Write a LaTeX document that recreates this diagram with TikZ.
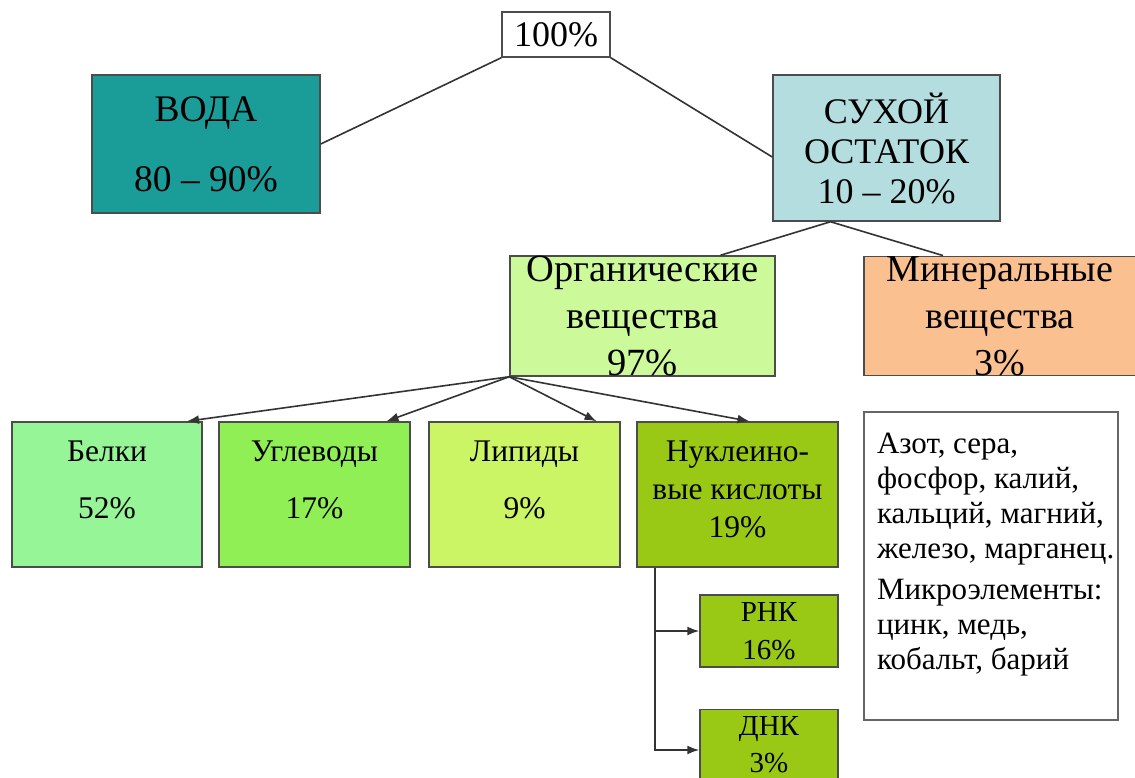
\documentclass[tikz,border=0pt]{standalone}
\usepackage{fontspec}
\setmainfont{Liberation Serif}
\usetikzlibrary{arrows.meta}

\definecolor{waterfill}{HTML}{1A9C98}
\definecolor{dryfill}{HTML}{B4DDE0}
\definecolor{organicfill}{HTML}{CCF99A}
\definecolor{mineralfill}{HTML}{FAC08F}
\definecolor{proteinfill}{HTML}{96F596}
\definecolor{carbfill}{HTML}{8FEF55}
\definecolor{lipidfill}{HTML}{CCF566}
\definecolor{nucleicfill}{HTML}{99C914}

\begin{document}
\begin{tikzpicture}
  [x=1pt, y=-1pt,
   my box/.style={draw=black!70, line width=1.5pt, inner sep=0pt,
     align=center, font=\fontsize{36}{40}\selectfont},
   my small box/.style={my box, font=\fontsize{31.5}{38}\selectfont},
   my line/.style={draw=black!80, line width=1.6pt},
   my arrow/.style={my line, -{Latex[length=12pt,width=9pt]}}, ]

  \clip (0,0) rectangle (1135,778);
  \fill[white] (0,0) rectangle (1135,778);

  \node[my box, fill=white, minimum width=108, minimum height=45]
    (total) at (556,34.5) {100\%};
  \node[my box, fill=waterfill, minimum width=228, minimum height=138,
    font=\fontsize{37.5}{42}\selectfont]
    (water) at (206,144) {ВОДА\\[28pt]80 – 90\%};
  \node[my box, fill=dryfill, minimum width=227, minimum height=146]
    (dry) at (886.5,148) {СУХОЙ\\ОСТАТОК\\10 – 20\%};

  \node[my box, fill=organicfill, minimum width=265, minimum height=118,
    font=\fontsize{38.5}{47}\selectfont]
    (organic) at (642.5,316) {Органические\\вещества\\97\%};
  \node[my box, fill=mineralfill, minimum width=272, minimum height=118,
    font=\fontsize{38}{47}\selectfont]
    (mineral) at (1000,316) {Минеральные\\вещества\\3\%};

  \node[my small box, fill=proteinfill, minimum width=190, minimum height=145,
    text depth=30pt]
    (proteins) at (107,494.5) {Белки\\[19pt]52\%};
  \node[my small box, fill=carbfill, minimum width=191, minimum height=145,
    text depth=30pt]
    (carbs) at (314.5,494.5) {Углеводы\\[19pt]17\%};
  \node[my small box, fill=lipidfill, minimum width=191, minimum height=145,
    text depth=30pt]
    (lipids) at (524.5,494.5) {Липиды\\[19pt]9\%};
  \node[my small box, fill=nucleicfill, minimum width=201, minimum height=145,
    text depth=10pt]
    (nucleic) at (737.5,494.5) {Нуклеино-\\вые кислоты\\19\%};

  \node[my small box, fill=nucleicfill, minimum width=138, minimum height=72,
    font=\fontsize{29}{38}\selectfont]
    (rna) at (769,631) {РНК\\16\%};
  \node[my small box, fill=nucleicfill, minimum width=138, minimum height=71,
    font=\fontsize{29}{37}\selectfont]
    (dna) at (769,745) {ДНК\\3\%};

  \node[draw=black!60, line width=1.4pt, fill=white, inner xsep=13pt,
    inner ysep=21pt, font=\fontsize{31}{35}\selectfont]
    (elements) at (991,566)
    {\parbox[c][266pt][t]{228pt}{\raggedright
      \mbox{Азот, сера,}\\ \mbox{фосфор, калий,}\\ \mbox{кальций, магний,}\\
      \mbox{железо, марганец.}\\[6pt]
      \mbox{Микроэлементы:}\\ \mbox{цинк, медь,}\\ \mbox{кобальт, барий}}};

  \draw[my line] (total.south west) -- (water.east);
  \draw[my line] (total.south east) -- ([yshift=-9pt]dry.west);

  \coordinate (dry foot) at ([xshift=-56pt]dry.south);
  \draw[my line] (dry foot) -- ([xshift=78pt]organic.north);
  \draw[my line] (dry foot) -- ([xshift=-57pt]mineral.north);

  \draw[my arrow] (organic.south west) -- ([xshift=80pt]proteins.north);
  \draw[my arrow] (organic.south west) -- ([xshift=72pt]carbs.north);
  \draw[my arrow] (organic.south west) -- ([xshift=72pt]lipids.north);
  \draw[my arrow] (organic.south west) -- ([xshift=12pt]nucleic.north);

  \coordinate (nucleic foot) at ([xshift=-82.5pt]nucleic.south);
  \draw[my arrow] (nucleic foot) |- (rna.west);
  \draw[my arrow] (nucleic foot) |- ([yshift=-5pt]dna.west);

\end{tikzpicture}
\end{document}
